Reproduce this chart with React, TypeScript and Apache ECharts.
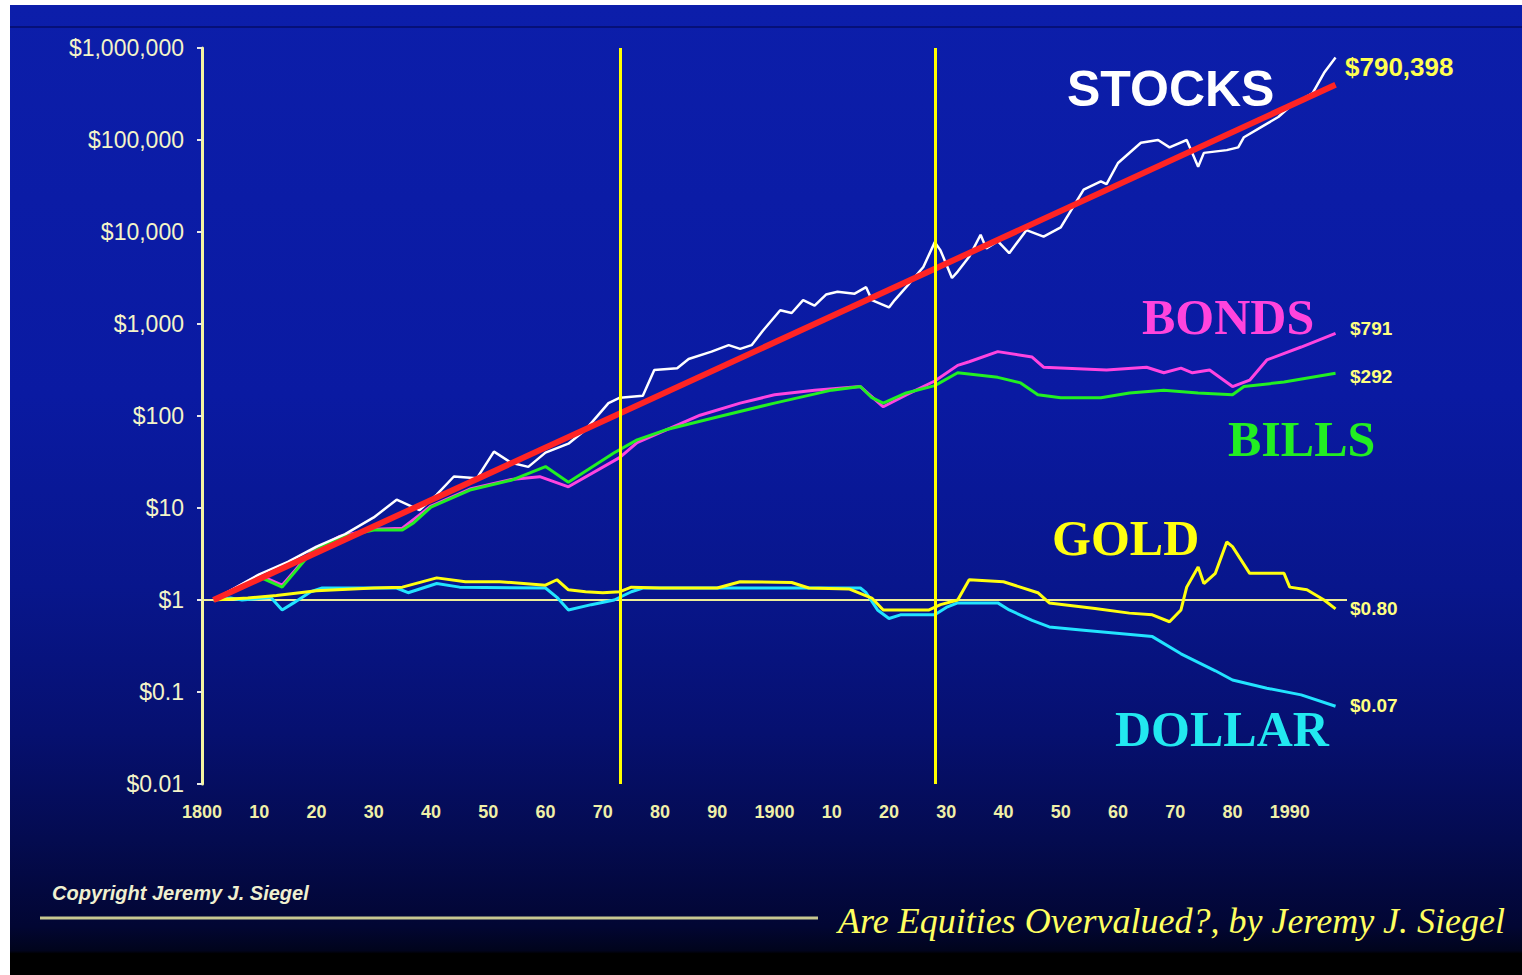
import React, { useEffect, useRef } from "react";
import * as echarts from "echarts";

const xTickLabels = ["1800","10","20","30","40","50","60","70","80","90","1900","10","20","30","40","50","60","70","80","1990"];
const yTickLabels = ["$0.01","$0.1","$1","$10","$100","$1,000","$10,000","$100,000","$1,000,000"];

const stockYears = [1802,1810,1815,1820,1825,1830,1834,1838,1841,1844,1848,1851,1854,1857,1860,1864,1867,1871,1873,1875,1877,1879,1883,1885,1889,1892,1894,1896,1898,1901,1903,1905,1907,1909,1911,1914,1916,1917,1920,1921,1923,1926,1928,1929,1931,1932,1934,1936,1937,1939,1941,1944,1947,1950,1954,1957,1958,1960,1964,1967,1969,1972,1974,1975,1979,1981,1982,1985,1988,1990,1994,1996,1998];
const stockValues = [1,1.9,2.6,3.8,5.2,7.9,12.3,9.5,14,22,21,41,31,28,40,50,71,138,158,162,166,316,331,417,501,589,537,589,851,1413,1318,1820,1585,2089,2239,2138,2512,1820,1514,1820,2512,4169,7762,6310,3162,3715,5370,9333,6607,7943,5888,10471,8913,11220,28840,35480,33110,56234,93325,100000,83176,100000,51286,72444,77625,83176,107152,138038,177828,229087,323594,537032,790398];

const trendYears = [1802, 1998];
const trendValues = [1, 398000];

const bondYears = [1802,1810,1814,1819,1824,1830,1835,1840,1847,1854,1859,1864,1873,1876,1887,1894,1900,1907,1915,1919,1923,1928,1932,1934,1939,1945,1947,1951,1958,1965,1968,1971,1973,1976,1980,1983,1986,1992,1998];
const bondValues = [1,1.86,1.45,3.31,4.9,5.89,6.03,10.5,16.2,20.4,21.9,17,35.5,51.3,102,138,170,191,209,126,170,240,355,389,501,437,339,331,316,339,295,331,295,316,209,245,407,562,791];

const billYears = [1802,1810,1814,1819,1824,1830,1835,1837,1840,1847,1854,1860,1864,1872,1876,1881,1890,1900,1910,1915,1917,1919,1923,1928,1932,1939,1943,1946,1950,1957,1962,1968,1974,1980,1982,1989,1998];
const billValues = [1,1.78,1.38,3.24,4.79,5.75,5.75,6.92,10.2,15.8,20,28.2,19.1,39.8,55,70.8,97.7,138,191,209,158,138,178,214,295,263,229,170,158,158,178,191,178,170,209,234,292];

const goldYears = [1802,1808,1813,1820,1830,1835,1841,1846,1852,1860,1862,1864,1867,1870,1873,1875,1880,1890,1894,1903,1906,1913,1917,1919,1927,1929,1932,1934,1940,1946,1948,1956,1962,1966,1969,1971,1972,1974,1975,1977,1979,1980,1983,1989,1990,1993,1996,1998];
const goldValues = [1,1.05,1.12,1.26,1.35,1.38,1.74,1.58,1.58,1.45,1.66,1.29,1.23,1.2,1.23,1.38,1.35,1.35,1.58,1.55,1.35,1.32,1.05,0.78,0.78,0.89,1.0,1.66,1.58,1.2,0.93,0.81,0.72,0.69,0.58,0.78,1.38,2.29,1.51,1.95,4.27,3.8,1.95,1.95,1.38,1.29,1.0,0.8];

const dollarYears = [1802,1805,1807,1812,1814,1816,1819,1821,1834,1836,1841,1845,1860,1862,1864,1868,1872,1875,1877,1915,1916,1918,1920,1922,1928,1930,1932,1939,1941,1945,1948,1954,1966,1971,1977,1980,1986,1992,1998];
const dollarValues = [1,1.05,1,1.07,0.78,0.93,1.23,1.35,1.35,1.2,1.51,1.38,1.35,1.07,0.78,0.89,1.0,1.23,1.35,1.35,1.2,0.78,0.63,0.69,0.69,0.83,0.93,0.93,0.78,0.6,0.51,0.47,0.4,0.26,0.17,0.135,0.11,0.093,0.07];

const eventYears = [1873, 1928];

const pairs = (xs: number[], ys: number[]) => xs.map((x, i) => [x, ys[i]]);

export default function App() {
  const ref = useRef<HTMLDivElement>(null);
  useEffect(() => {
    if (!ref.current) return;
    const chart = echarts.init(ref.current, undefined, { renderer: "svg" });
    const line = (name: string, data: number[][], color: string, width: number, z: number, extra: any = {}) => ({
      name, type: "line", data, showSymbol: false, symbol: "none", z,
      lineStyle: { color, width }, itemStyle: { color }, ...extra,
    });
    const serif = "'Liberation Serif', 'Times New Roman', serif";
    const sans = "'Liberation Sans', Arial, sans-serif";
    const shadow = { shadowColor: "rgba(0,0,30,0.9)", shadowBlur: 4 };
    chart.setOption({
      animation: false,
      backgroundColor: new echarts.graphic.LinearGradient(0, 0, 0, 1, [
        { offset: 0, color: "#0c1eaa" },
        { offset: 0.4, color: "#0a1aa2" },
        { offset: 0.6, color: "#08168c" },
        { offset: 0.75, color: "#061070" },
        { offset: 0.86, color: "#040b50" },
        { offset: 0.95, color: "#020633" },
        { offset: 0.975, color: "#01041c" },
        { offset: 0.978, color: "#000000" },
        { offset: 1, color: "#000000" },
      ]),
      grid: { left: 192, top: 43, width: 1145, height: 736 },
      xAxis: {
        type: "value", min: 1800, max: 2000, interval: 10,
        axisLine: { show: false }, axisTick: { show: false }, splitLine: { show: false },
        axisLabel: {
          color: "#f0f0a8", fontSize: 18, fontWeight: "bold", fontFamily: sans, margin: 19,
          showMaxLabel: false,
          formatter: (v: number) => xTickLabels[Math.round((v - 1800) / 10)] ?? "",
        },
      },
      yAxis: {
        type: "log", logBase: 10, min: 0.01, max: 1000000,
        axisLine: { show: true, lineStyle: { color: "#f4f4a0", width: 3 } },
        axisTick: { show: true, length: 5, lineStyle: { color: "#e8e8e8", width: 2 } },
        splitLine: { show: false },
        axisLabel: {
          color: "#f4f4c8", fontSize: 23, fontFamily: sans, margin: 18,
          formatter: (v: number) => yTickLabels[Math.round(Math.log10(v)) + 2] ?? "",
        },
      },
      series: [
        line("Bills", pairs(billYears, billValues), "#22f022", 3, 3, {
          markLine: {
            silent: true, symbol: ["none", "none"], z: 1, label: { show: false },
            lineStyle: { color: "#eeee99", width: 2, type: "solid" },
            data: [{ yAxis: 1 }],
          },
        }),
        line("Bonds", pairs(bondYears, bondValues), "#ff44e0", 3, 2),
        line("Dollar", pairs(dollarYears, dollarValues), "#22e4ff", 3, 4),
        line("Gold", pairs(goldYears, goldValues), "#ffff10", 3, 5),
        line("Stocks", pairs(stockYears, stockValues), "#ffffff", 2.5, 6),
        line("Trend", pairs(trendYears, trendValues), "#ff2424", 6, 7, {
          markLine: {
            silent: true, symbol: ["none", "none"], z: 8, label: { show: false },
            lineStyle: { color: "#ffff00", width: 3, type: "solid" },
            data: eventYears.map((y) => ({ xAxis: y })),
          },
        }),
      ],
      graphic: [
        { type: "line", shape: { x1: 0, y1: 22, x2: 1512, y2: 22 }, style: { stroke: "#061078", lineWidth: 2 } },
        { type: "text", x: 1057, y: 84, style: { text: "STOCKS", font: `bold 50px ${sans}`, fill: "#ffffff", textVerticalAlign: "middle", ...shadow } },
        { type: "text", x: 1335, y: 62, style: { text: "$790,398", font: `bold 26px ${sans}`, fill: "#ffff50", textVerticalAlign: "middle", ...shadow } },
        { type: "text", x: 1132, y: 312, style: { text: "BONDS", font: `bold 50px ${serif}`, fill: "#ff44dd", textVerticalAlign: "middle", ...shadow } },
        { type: "text", x: 1340, y: 323, style: { text: "$791", font: `bold 19px ${sans}`, fill: "#ffff80", textVerticalAlign: "middle", ...shadow } },
        { type: "text", x: 1340, y: 371, style: { text: "$292", font: `bold 19px ${sans}`, fill: "#ffff80", textVerticalAlign: "middle", ...shadow } },
        { type: "text", x: 1218, y: 434, style: { text: "BILLS", font: `bold 50px ${serif}`, fill: "#22ee22", textVerticalAlign: "middle", ...shadow } },
        { type: "text", x: 1042, y: 533, style: { text: "GOLD", font: `bold 50px ${serif}`, fill: "#ffff10", textVerticalAlign: "middle", ...shadow } },
        { type: "text", x: 1340, y: 603, style: { text: "$0.80", font: `bold 19px ${sans}`, fill: "#ffff80", textVerticalAlign: "middle", ...shadow } },
        { type: "text", x: 1105, y: 724, style: { text: "DOLLAR", font: `bold 50px ${serif}`, fill: "#22e8f0", textVerticalAlign: "middle", ...shadow } },
        { type: "text", x: 1340, y: 700, style: { text: "$0.07", font: `bold 19px ${sans}`, fill: "#ffff80", textVerticalAlign: "middle", ...shadow } },
        { type: "text", x: 42, y: 888, style: { text: "Copyright Jeremy J. Siegel", font: `italic bold 20px ${sans}`, fill: "#f0f0d0", textVerticalAlign: "middle" } },
        { type: "line", shape: { x1: 30, y1: 913, x2: 808, y2: 913 }, style: { stroke: "#c8c890", lineWidth: 3 } },
        { type: "text", x: 828, y: 916, style: { text: "Are Equities Overvalued?, by Jeremy J. Siegel", font: `italic 36px ${serif}`, fill: "#ffff60", textVerticalAlign: "middle" } },
      ],
    });
    return () => chart.dispose();
  }, []);
  return (
    <div style={{ position: "absolute", left: 0, top: 0, width: 1522, height: 975, background: "#ffffff", overflow: "hidden" }}>
      <div ref={ref} style={{ position: "absolute", left: 10, top: 5, width: 1512, height: 970 }} />
    </div>
  );
}
